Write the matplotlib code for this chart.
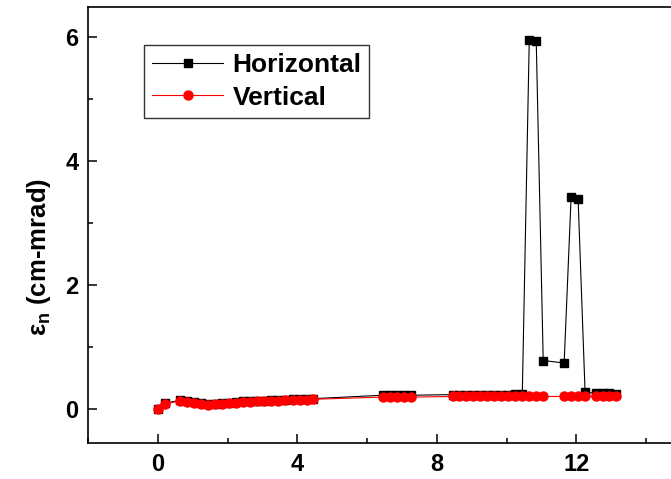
import matplotlib
matplotlib.use('Agg')
import matplotlib.pyplot as plt
from matplotlib.ticker import MultipleLocator

plt.rcParams['font.family'] = ['Liberation Sans', 'DejaVu Sans']
plt.rcParams['mathtext.fontset'] = 'custom'
plt.rcParams['mathtext.bf'] = 'Liberation Sans:bold'
plt.rcParams['mathtext.rm'] = 'Liberation Sans:bold'

# shared x positions of the samples
x_vals = [0.0, 0.2,
          0.65, 0.85, 1.05, 1.25, 1.45, 1.65, 1.85, 2.05, 2.25, 2.45, 2.65,
          2.85, 3.05, 3.25, 3.45, 3.65, 3.87, 4.07, 4.27, 4.45,
          6.45, 6.65, 6.85, 7.05, 7.25,
          8.45, 8.65, 8.85, 9.05, 9.25, 9.45, 9.65, 9.85, 10.05, 10.25, 10.45,
          10.65, 10.85, 11.05,
          11.65, 11.85, 12.05, 12.25,
          12.55, 12.75, 12.95, 13.15]

horizontal = [0.0, 0.09,
              0.14, 0.12, 0.11, 0.09, 0.08, 0.085, 0.09, 0.10, 0.11, 0.12, 0.125,
              0.13, 0.135, 0.14, 0.145, 0.15, 0.155, 0.16, 0.16, 0.165,
              0.22, 0.22, 0.22, 0.22, 0.22,
              0.23, 0.23, 0.23, 0.23, 0.23, 0.23, 0.23, 0.23, 0.23, 0.24, 0.24,
              5.95, 5.93, 0.78,
              0.74, 3.42, 3.39, 0.27,
              0.25, 0.25, 0.25, 0.24]

vertical = [0.0, 0.08,
            0.13, 0.11, 0.10, 0.08, 0.07, 0.075, 0.08, 0.09, 0.10, 0.11, 0.115,
            0.12, 0.125, 0.13, 0.135, 0.14, 0.145, 0.15, 0.15, 0.155,
            0.19, 0.19, 0.19, 0.19, 0.19,
            0.20, 0.20, 0.20, 0.20, 0.20, 0.20, 0.20, 0.20, 0.20, 0.20, 0.20,
            0.20, 0.20, 0.20,
            0.20, 0.20, 0.20, 0.20,
            0.20, 0.20, 0.20, 0.20]

fig = plt.figure(figsize=(6.71, 4.79), dpi=100)
ax = fig.add_axes([88 / 671, 36 / 479, 593 / 671, 436 / 479])

ax.plot(x_vals, horizontal, color='black', lw=0.8, marker='s', ms=5.8,
        mfc='black', mec='black', label='Horizontal')
ax.plot(x_vals, vertical, color='red', lw=0.8, marker='o', ms=6.5,
        mfc='red', mec='red', label='Vertical')

ax.set_xlim(-2, 15)
ax.set_ylim(-0.55, 6.48)
ax.xaxis.set_major_locator(MultipleLocator(4))
ax.xaxis.set_minor_locator(MultipleLocator(2))
ax.yaxis.set_major_locator(MultipleLocator(2))
ax.yaxis.set_minor_locator(MultipleLocator(1))
ax.tick_params(which='both', direction='in', width=1.1, labelsize=17)
ax.tick_params(which='major', length=6.5, pad=7)
ax.tick_params(which='minor', length=3.5)
for lab in ax.get_xticklabels() + ax.get_yticklabels():
    lab.set_fontweight('bold')
for sp in ax.spines.values():
    sp.set_linewidth(1.2)

ax.set_ylabel('ε$_\\mathbf{n}$ (cm-mrad)', fontsize=18.5, fontweight='bold')
ax.yaxis.set_label_coords(-35 / 593, 0.427)

leg = ax.legend(loc='upper left', bbox_to_anchor=(144 / 671, 1 - 45 / 479),
                bbox_transform=fig.transFigure, borderaxespad=0,
                fancybox=False, frameon=True, handlelength=2.7,
                prop={'weight': 'bold', 'size': 19}, labelspacing=0.33,
                borderpad=0.3, handletextpad=0.35)
leg.get_frame().set_edgecolor('black')
leg.get_frame().set_linewidth(1.0)

fig.savefig('out.png', dpi=100)
